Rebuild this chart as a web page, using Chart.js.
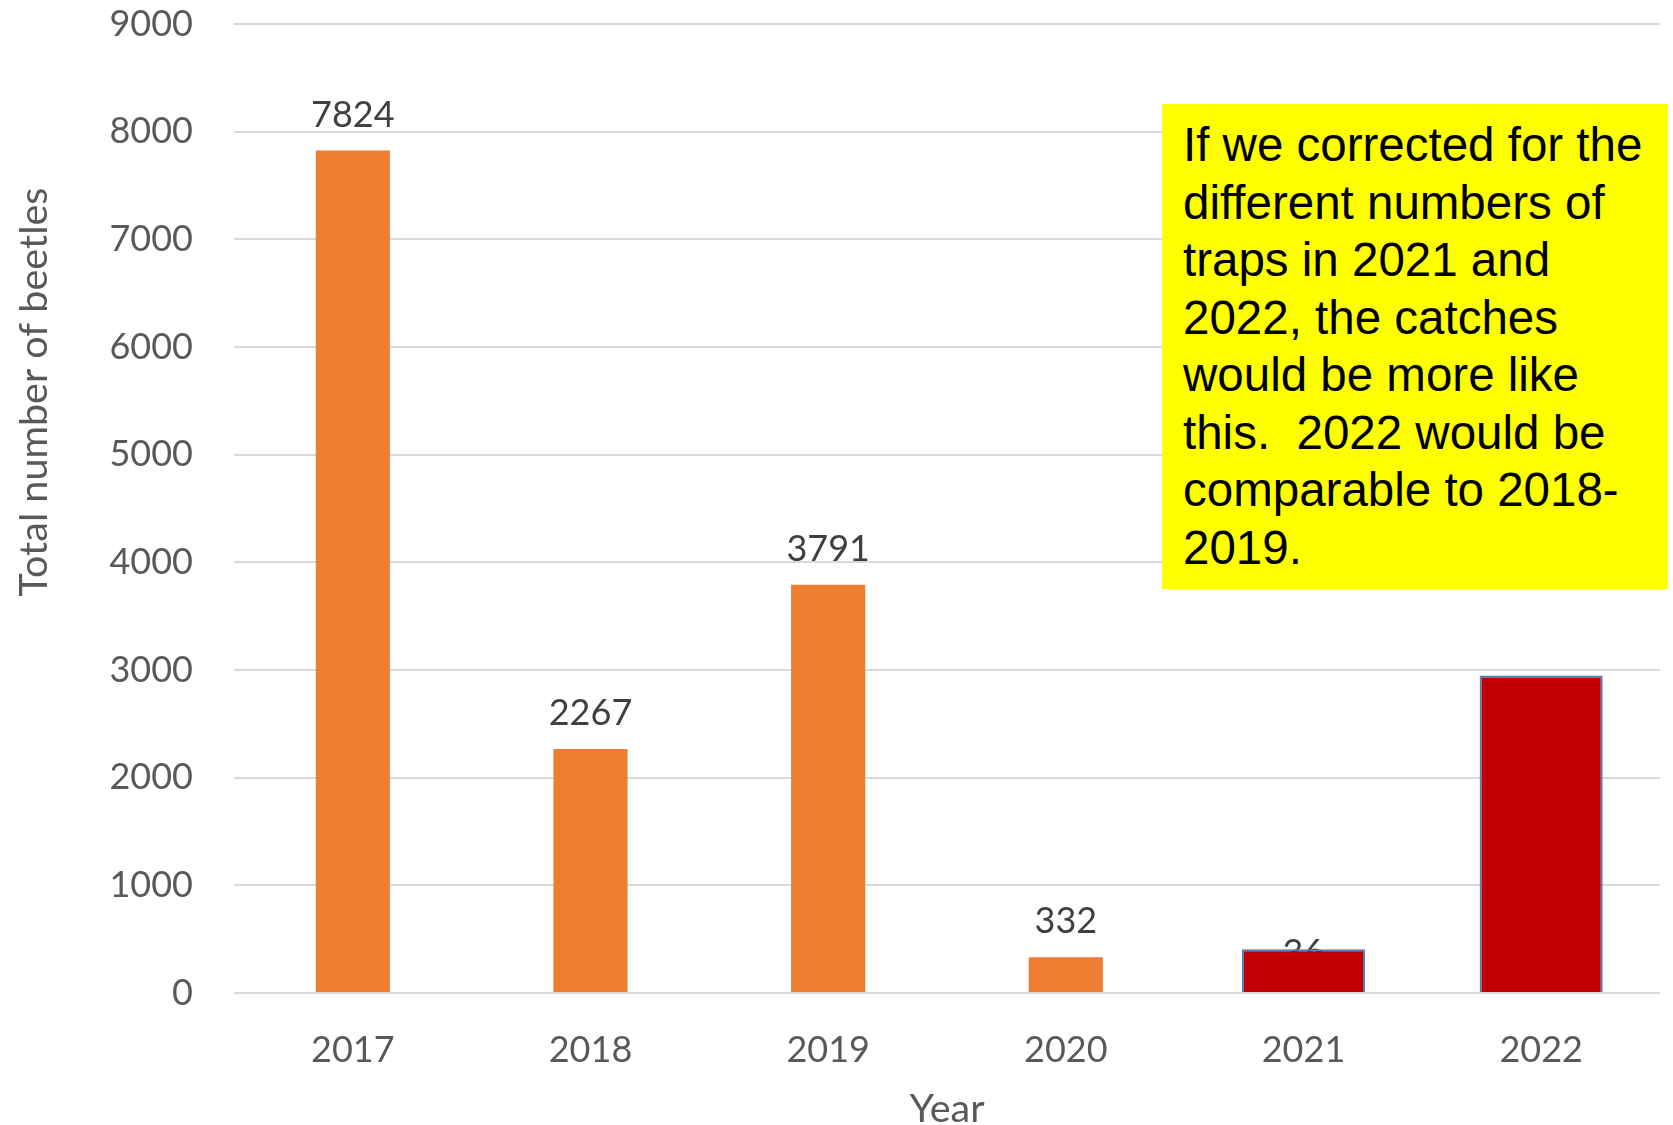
<!DOCTYPE html>
<html>
<head>
<meta charset="utf-8">
<script src="https://cdn.jsdelivr.net/npm/chart.js@4"></script>
<style>
  html, body { margin: 0; padding: 0; background: #fff; }
  #wrap { position: relative; width: 1673px; height: 1125px; }
  #note {
    position: absolute; left: 1162px; top: 104px; width: 506px; height: 485px;
    background: #ffff00; box-sizing: border-box; padding: 12px 0 0 21px;
    font-family: "Liberation Sans", Arial, sans-serif; font-size: 47.5px; line-height: 57.5px; color: #000;
  }
</style>
</head>
<body>
<div id="wrap">
  <canvas id="myChart" width="1673" height="1125"></canvas>
  <div id="note">If we corrected for the different numbers of traps in 2021 and 2022, the catches would be more like this.&nbsp; 2022 would be comparable to 2018-2019.</div>
</div>
<script>
// --- data ---
const years = ['2017', '2018', '2019', '2020', '2021', '2022'];
const beetleCounts = [7824, 2267, 3791, 332, 36, null];
const correctedCounts = [null, null, null, null, 406, 2950];
const yTicks = [0, 1000, 2000, 3000, 4000, 5000, 6000, 7000, 8000, 9000];
const yTitle = 'Total number of beetles';

const axisFont = { family: 'Lato', size: 36 };

// value labels above the orange bars (drawn before the red bars so "36" gets covered)
const barLabels = {
    id: 'barLabels',
    afterDatasetDraw(chart, args) {
        if (args.index !== 1) return;
        const ctx = chart.ctx;
        ctx.save();
        ctx.font = '36px Lato';
        ctx.fillStyle = '#404040';
        ctx.textAlign = 'center';
        ctx.textBaseline = 'alphabetic';
        args.meta.data.forEach((bar, i) => {
            if (beetleCounts[i] == null) return;
            ctx.fillText(String(beetleCounts[i]), bar.x, bar.y - 24);
        });
        ctx.restore();
    }
};

// y title sits a bit above the middle of the axis in the original
const yTitlePlugin = {
    id: 'yTitle',
    afterDraw(chart) {
        const ctx = chart.ctx;
        ctx.save();
        ctx.translate(34, 392);
        ctx.rotate(-Math.PI / 2);
        ctx.font = '39.5px Lato';
        ctx.fillStyle = '#595959';
        ctx.textAlign = 'center';
        ctx.textBaseline = 'middle';
        ctx.fillText(yTitle, 0, 0);
        ctx.restore();
    }
};

const myChart = () => {
    const ctx = document.getElementById('myChart');
    new Chart(ctx, {
        type: 'bar',
        data: {
            labels: years,
            datasets: [{
                label: 'Corrected',
                data: correctedCounts,
                backgroundColor: '#C00000',
                borderColor: '#4F81BD',
                borderWidth: 2,
                barPercentage: 0.518,
                categoryPercentage: 1
            }, {
                label: 'Total',
                data: beetleCounts,
                backgroundColor: '#ED7D31',
                borderWidth: 0,
                barPercentage: 0.312,
                categoryPercentage: 1
            }]
        },
        options: {
            responsive: false,
            animation: false,
            grouped: false,
            layout: { padding: { top: 0, right: 13, bottom: 0, left: 0 } },
            plugins: { legend: { display: false }, tooltip: { enabled: false } },
            scales: {
                x: {
                    grid: { display: false, drawTicks: false },
                    border: { display: false },
                    ticks: { color: '#595959', font: axisFont, padding: 36 },
                    title: { display: true, text: 'Year', color: '#595959', font: { family: 'Lato', size: 39.5, lineHeight: 0.8 }, padding: 0 },
                    afterFit: (s) => { s.height = 132; }
                },
                y: {
                    min: 0,
                    max: 9000,
                    afterBuildTicks: (s) => { s.ticks = yTicks.map(v => ({ value: v })); },
                    grid: { color: '#D9D9D9', lineWidth: 2, drawTicks: false },
                    border: { display: false },
                    ticks: { color: '#595959', font: axisFont, padding: 41, callback: (v) => String(v) },
                    afterFit: (s) => { s.width = 234; s.paddingTop = 24; }
                }
            }
        },
        plugins: [barLabels, yTitlePlugin]
    });
};

document.fonts.load('36px Lato').then(myChart, myChart);
</script>
</body>
</html>
